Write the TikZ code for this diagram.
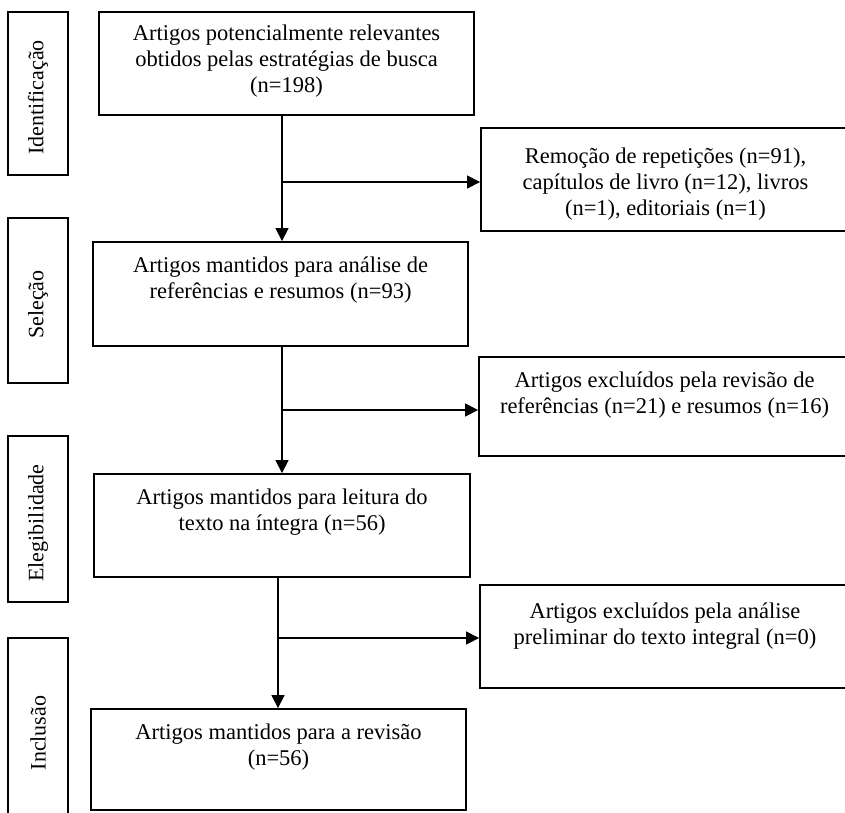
\documentclass[tikz,border=0pt]{standalone}
\usepackage{fontspec}
\setmainfont{Liberation Serif}
\usetikzlibrary{arrows.meta}
\begin{document}
\begin{tikzpicture}[x=1pt,y=-1pt,
  box/.style={draw, line width=1.8pt, inner sep=0pt},
  txt/.style={align=center, inner sep=0pt, anchor=north, font=\fontsize{22.5}{26}\selectfont},
  vtxt/.style={rotate=90, inner sep=0pt, font=\fontsize{22}{26}\selectfont},
  arr/.style={line width=1.2pt, -{Triangle[length=13pt,width=13pt]}}]
\useasboundingbox (0,0) rectangle (845,812);
% stage boxes
\node[box, minimum width=60pt, minimum height=163pt] (s1) at (38,93.5) {};
\node[box, minimum width=60pt, minimum height=165pt] (s2) at (38,300.5) {};
\node[box, minimum width=60pt, minimum height=166pt] (s3) at (38,519) {};
\node[box, minimum width=60pt, minimum height=182pt] (s4) at (38,729) {};
\node[vtxt, xshift=-4pt] at (s1.center) {Identificação};
\node[vtxt, xshift=-4pt] at (s2.center) {Seleção};
\node[vtxt, xshift=-4pt] at (s3.center) {Elegibilidade};
\node[vtxt, xshift=-4pt] at (s4.center) {Inclusão};
% main boxes
\node[box, minimum width=375pt, minimum height=103pt] (b1) at (286.5,63.5) {};
\node[box, minimum width=375pt, minimum height=104pt] (b2) at (280.5,294) {};
\node[box, minimum width=376pt, minimum height=103pt] (b3) at (282,525.5) {};
\node[box, minimum width=375pt, minimum height=101pt] (b4) at (278.5,759.5) {};
\node[txt] at ([yshift=-14pt]b1.north) {Artigos potencialmente relevantes\\obtidos pelas estratégias de busca\\(n=198)};
\node[txt] at ([yshift=-16pt]b2.north) {Artigos mantidos para análise de\\referências e resumos (n=93)};
\node[txt] at ([yshift=-16pt]b3.north) {Artigos mantidos para leitura do\\texto na íntegra (n=56)};
\node[txt] at ([yshift=-16pt]b4.north) {Artigos mantidos para a revisão\\(n=56)};
% right boxes
\node[box, minimum width=369pt, minimum height=103pt] (r1) at (665.5,179.5) {};
\node[box, minimum width=371pt, minimum height=99pt] (r2) at (664.5,406.5) {};
\node[box, minimum width=370pt, minimum height=103pt] (r3) at (665,636.5) {};
\node[txt] at ([yshift=-21pt]r1.north) {Remoção de repetições (n=91),\\capítulos de livro (n=12), livros\\(n=1), editoriais (n=1)};
\node[txt] at ([yshift=-16pt]r2.north) {Artigos excluídos pela revisão de\\referências (n=21) e resumos (n=16)};
\node[txt] at ([yshift=-19pt]r3.north) {Artigos excluídos pela análise\\preliminar do texto integral (n=0)};
% connectors
\coordinate (t1) at (282,182);
\coordinate (t2) at (282,410);
\coordinate (t3) at (278,638);
\draw[arr] (b1.south -| t1) -- (b2.north -| t1);
\draw[arr] (t1) -- (t1 -| r1.west);
\draw[arr] (b2.south -| t2) -- (b3.north -| t2);
\draw[arr] (t2) -- (t2 -| r2.west);
\draw[arr] (b3.south -| t3) -- (b4.north -| t3);
\draw[arr] (t3) -- (t3 -| r3.west);
\end{tikzpicture}
\end{document}
